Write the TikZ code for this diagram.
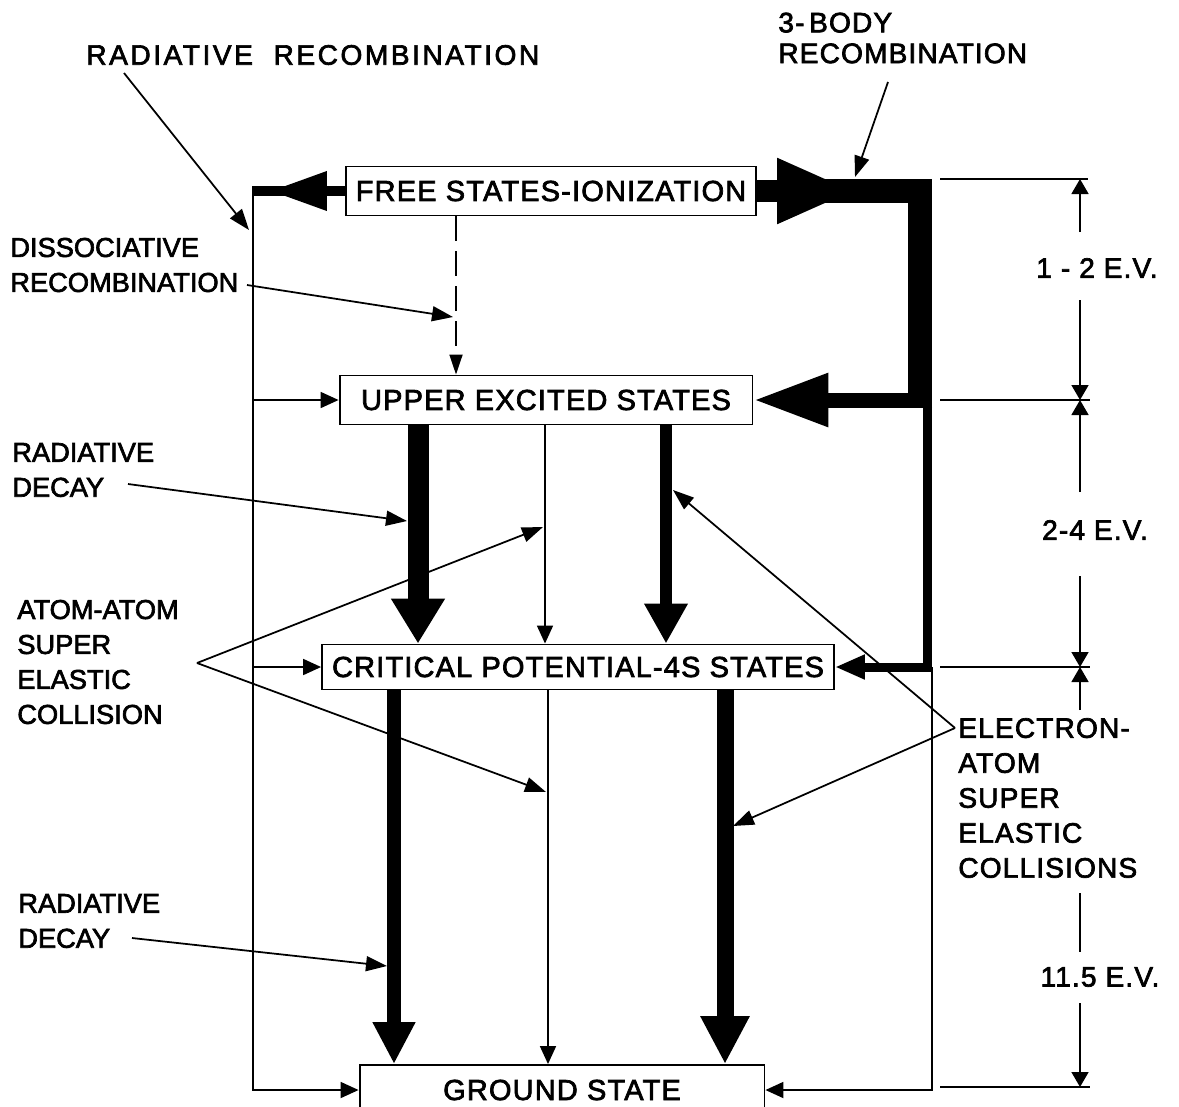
\documentclass[tikz,border=0pt]{standalone}
\usepackage{fontspec}
\setmainfont{Liberation Sans}[FakeBold=2.4]
\newfontfamily\boxfont{Liberation Sans}[LetterSpace=4,FakeBold=2.4]
\newfontfamily\widefont{Liberation Sans}[LetterSpace=9,FakeBold=2.4]
\usepackage{tikz}
\usetikzlibrary{arrows.meta,positioning}

\begin{document}
\begin{tikzpicture}[x=0.02cm,y=-0.02cm,
  statebox/.style={draw,line width=1.1pt,inner sep=0pt,
    font=\boxfont\fontsize{16.5}{20}\selectfont},
  lbl/.style={anchor=west,align=left,inner sep=0pt,
    font=\fontsize{15.5}{19.9}\selectfont},
  rlbl/.style={anchor=west,align=left,inner sep=0pt,
    font=\boxfont\fontsize{16}{19.9}\selectfont},
  evlbl/.style={inner sep=0pt,font=\boxfont\fontsize{16}{19.9}\selectfont},
  wire/.style={line width=1pt},
  lead/.style={line width=1pt,-{Triangle[length=0.42cm,width=0.3cm]}},
  feed/.style={line width=1pt,-{Triangle[length=0.36cm,width=0.32cm]}},
  dim/.style={line width=0.9pt,-{Triangle[length=0.3cm,width=0.34cm]}},
]
\path[use as bounding box,fill=white] (0,0) rectangle (1179,1106);

% energy levels
\node[statebox,minimum width=8.2cm,minimum height=0.98cm] (free) at (551,191) {FREE STATES-IONIZATION};
\node[statebox,minimum width=8.26cm,minimum height=0.98cm] (upper) at (546,400) {UPPER EXCITED STATES};
\node[statebox,minimum width=10.24cm,minimum height=0.9cm] (crit) at (578,667) {CRITICAL POTENTIAL-4S STATES};
\node[statebox,minimum width=8.1cm,minimum height=1cm] (ground) at (562,1090) {GROUND STATE};

% labels
\node[anchor=west,inner sep=0pt,font=\widefont\fontsize{16}{19.9}\selectfont] (rrlab) at (86,55) {RADIATIVE\ \ RECOMBINATION};
\node[rlbl,font=\boxfont\fontsize{16}{17.5}\selectfont] (tblab) at (778,38) {3-\,BODY\\RECOMBINATION};
\node[lbl] (dislab) at (10,265) {DISSOCIATIVE\\RECOMBINATION};
\node[lbl] (rd1lab) at (12,470) {RADIATIVE\\DECAY};
\node[lbl] (aalab) at (17,662) {ATOM-ATOM\\SUPER\\ELASTIC\\COLLISION};
\node[lbl] (rd2lab) at (18,921) {RADIATIVE\\DECAY};
\node[rlbl] (ealab) at (958,798) {ELECTRON-\\ATOM\\SUPER\\ELASTIC\\COLLISIONS};
\node[evlbl] (ev1) at (1097,268) {1 - 2 E.V.};
\node[evlbl] (ev2) at (1095,530) {2-4 E.V.};
\node[evlbl] (ev3) at (1100,977) {11.5 E.V.};

% left return line
\coordinate (lt) at (253,191);
\coordinate (lhead) at (270,191);
\coordinate (lb) at (253,1090);
\draw[line width=0.2cm,-{Triangle[length=1.14cm,width=0.74cm]}] (free.west) -- (lhead);
\draw[line width=0.2cm] (290,191) -- (lt);
\draw[feed] (253,186) -- (lb) -- (ground.west);
\draw[feed] (lt |- upper.west) -- (upper.west);
\draw[feed] (lt |- crit.west) -- (crit.west);

% right return line
\coordinate (rhead) at (855,191);
\coordinate (rc) at (920,191);
\coordinate (ru) at (932,400);
\coordinate (rk) at (932,667);
\draw[line width=0.44cm,-{Triangle[length=1.56cm,width=1.2cm]}] (free.east) -- (rhead);
\draw[line width=0.48cm] (825,191) -- (rc) -- (920,407);
\draw[line width=0.3cm,-{Triangle[length=1.5cm,width=1.0cm]}] (ru) -- (upper.east);
\draw[line width=0.18cm] (927.5,400) -- (927.5,671);
\draw[line width=0.18cm,-{Triangle[length=0.6cm,width=0.46cm]}] (rk) -- (crit.east);
\draw[feed] (rk) -- (932,1090) -- (ground.east);

% transitions
\coordinate (xd) at (456,0);
\coordinate (xa) at (418,0);
\coordinate (xb) at (545,0);
\coordinate (xc) at (666,0);
\coordinate (xe) at (394,0);
\coordinate (xf) at (548,0);
\coordinate (xg) at (725,0);
\draw[wire,dash pattern=on 0.5cm off 0.2cm,-{Triangle[length=0.4cm,width=0.26cm]}] (free.south -| xd) -- (upper.north -| xd);
\draw[line width=0.42cm,-{Triangle[length=0.9cm,width=1.02cm]}] (upper.south -| xa) -- (crit.north -| xa);
\draw[feed] (upper.south -| xb) -- (crit.north -| xb);
\draw[line width=0.24cm,-{Triangle[length=0.8cm,width=0.82cm]}] (upper.south -| xc) -- (crit.north -| xc);
\draw[line width=0.28cm,-{Triangle[length=0.84cm,width=0.8cm]}] (crit.south -| xe) -- (ground.north -| xe);
\draw[feed] (crit.south -| xf) -- (ground.north -| xf);
\draw[line width=0.34cm,-{Triangle[length=0.96cm,width=0.92cm]}] (crit.south -| xg) -- (ground.north -| xg);

% energy scale
\draw[wire] (940,179) -- (1088,179);
\draw[wire] (940,400) -- (1090,400);
\draw[wire] (940,667) -- (1090,667);
\draw[wire] (940,1087) -- (1090,1087);
\draw[dim] (1080,232) -- (1080,179);
\draw[dim] (1080,300) -- (1080,400);
\draw[dim] (1080,492) -- (1080,400);
\draw[dim] (1080,576) -- (1080,667);
\draw[dim] (1080,710) -- (1080,667);
\draw[wire] (1080,893) -- (1080,952);
\draw[dim] (1080,1003) -- (1080,1087);

% pointers
\coordinate (rrs) at (124,73);   \coordinate (rrt) at (249,230);
\coordinate (tbs) at (888,82);   \coordinate (tbt) at (855,177);
\coordinate (dis) at (247,285);  \coordinate (dit) at (453,317);
\coordinate (rd1s) at (128,484); \coordinate (rd1t) at (407,521);
\coordinate (aas) at (197,663);  \coordinate (aat1) at (543,527); \coordinate (aat2) at (546,792);
\coordinate (rd2s) at (132,938); \coordinate (rd2t) at (387,966);
\coordinate (eas) at (955,728);  \coordinate (eat1) at (673,490); \coordinate (eat2) at (733,826);
\draw[lead] (rrs) -- (rrt);
\draw[lead] (tbs) -- (tbt);
\draw[lead] (dis) -- (dit);
\draw[lead] (rd1s) -- (rd1t);
\draw[lead] (aas) -- (aat1);
\draw[lead] (aas) -- (aat2);
\draw[lead] (rd2s) -- (rd2t);
\draw[lead] (eas) -- (eat1);
\draw[lead] (eas) -- (eat2);
\end{tikzpicture}
\end{document}
